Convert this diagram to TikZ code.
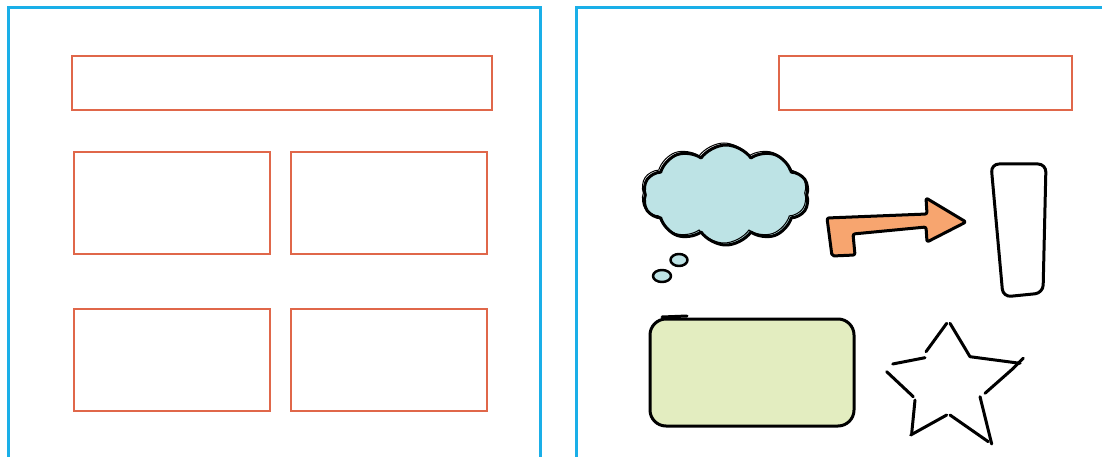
\documentclass[tikz,border=0pt]{standalone}
\usetikzlibrary{shapes.symbols}
\definecolor{panelblue}{HTML}{1AAFE8}
\definecolor{slotred}{HTML}{E0674A}
\definecolor{cloudblue}{HTML}{BDE3E5}
\definecolor{arroworange}{HTML}{F7A56F}
\definecolor{boxgreen}{HTML}{E3EDC0}
\begin{document}
\begin{tikzpicture}[x=1pt,y=-1pt,
	panel/.style={draw=panelblue,line width=3pt},
	slot/.style={draw=slotred,line width=2.5pt,inner sep=0pt},
	sketch/.style={draw=black,line width=3pt,line cap=round,line join=round}]
	\useasboundingbox (0,0) rectangle (1102,457);
	% two page panels, open at the bottom
	\draw[panel] (8,470) -- (8,8) -- (540,8) -- (540,470);
	\draw[panel] (576,470) -- (576,8) -- (1115,8);
	% left panel: header and four slots
	\node[slot,minimum width=420pt,minimum height=54pt] (lefthead) at (282,83) {};
	\node[slot,minimum width=196pt,minimum height=102pt] (slotA) at (172,203) {};
	\node[slot,minimum width=196pt,minimum height=102pt] (slotB) at (389,203) {};
	\node[slot,minimum width=196pt,minimum height=102pt] (slotC) at (172,360) {};
	\node[slot,minimum width=196pt,minimum height=102pt] (slotD) at (389,360) {};
	% right panel: header and sketched shapes
	\node[slot,minimum width=293pt,minimum height=54pt] (righthead) at (925.5,83) {};
	\node[cloud,cloud puffs=10,cloud puff arc=110,aspect=1.7,sketch,fill=cloudblue,inner sep=0pt,
		minimum width=166pt,minimum height=100pt] (thought) at (726,195) {};
	\node[cloud,cloud puffs=10,cloud puff arc=110,aspect=1.7,draw,line width=1pt,inner sep=0pt,
		minimum width=166pt,minimum height=100pt] (thoughtline) at (724,193) {};
	\draw[sketch,line width=2.5pt,fill=cloudblue] (679,260) ellipse [x radius=8.5, y radius=6];
	\draw[sketch,line width=2.5pt,fill=cloudblue] (662,276) ellipse [x radius=9, y radius=6];
	\draw[sketch,fill=arroworange,rounded corners=2pt] (827,218) -- (927,214) -- (926,198) -- (966,222)
		-- (927,242) -- (926,227) -- (853,234) -- (855,255) -- (832,256) -- cycle;
	\draw[sketch,fill=white,rounded corners=8pt] (1003,297) -- (991,164) -- (1046,164) -- (1043,293) -- cycle;
	\draw[sketch,fill=boxgreen,rounded corners=16pt] (650,319) rectangle (854,426);
	\draw[sketch] (662,317) -- (687,316);
	% star, drawn in broken strokes
	\foreach \xa/\ya/\xb/\yb in {950/323.3/970/356.7, 970/356.7/1020/363.3, 1023.3/358.3/1013.3/368.3,
		1013.3/368.3/985/393.3, 980/396.7/991.7/444, 988.3/441.7/950/415,
		946.7/415/910.7/435, 911.7/433.3/915/400, 913.3/396.7/886.7/371.7,
		892.7/364/925/357.7, 926/351.7/946.7/323.3}
	{\draw[sketch] (\xa,\ya) -- (\xb,\yb);}
\end{tikzpicture}
\end{document}
